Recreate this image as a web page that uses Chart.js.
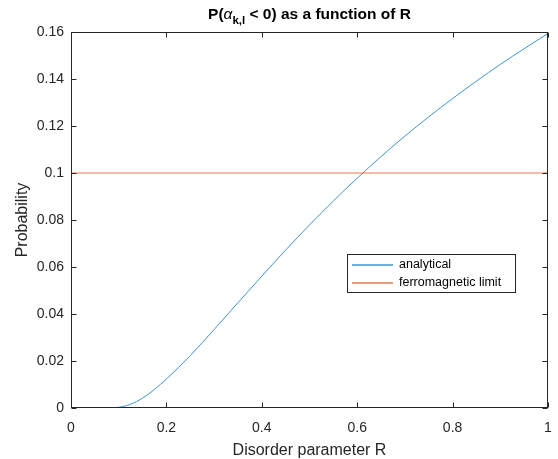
<!DOCTYPE html>
<html><head><meta charset="utf-8">
<script src="https://cdn.jsdelivr.net/npm/chart.js@4"></script>
<style>html,body{margin:0;padding:0;background:#fff}#wrap{width:558px;height:459px}</style>
</head><body><div id="wrap"><canvas id="c" width="558" height="459"></canvas></div>
<script>
const R = [0, 0.05, 0.085, 0.1, 0.125, 0.15, 0.175, 0.2, 0.25, 0.3, 0.35, 0.4, 0.45, 0.5, 0.55, 0.6, 0.65, 0.7, 0.75, 0.8, 0.85, 0.9, 0.95, 1.0];
const analytical = [0, 0, 0, 0.0003, 0.0016, 0.0042, 0.0079, 0.0123, 0.0223, 0.0334, 0.0448, 0.0561, 0.0672, 0.0779, 0.0881, 0.0978, 0.1070, 0.1157, 0.1239, 0.1317, 0.1391, 0.1462, 0.1529, 0.1594];
const limitR = [0, 1];
const limitP = [0.1, 0.1];
const xTicks = [0, 0.2, 0.4, 0.6, 0.8, 1];
const yTicks = [0, 0.02, 0.04, 0.06, 0.08, 0.1, 0.12, 0.14, 0.16];
const seriesNames = ['analytical', 'ferromagnetic limit'];
const seriesColors = ['#3D94D2', '#E27A4B'];
const FONT = 'Liberation Sans, Arial, sans-serif';
const AX = '#262626';

const frame = {
  id: 'frame',
  afterDatasetsDraw(chart) {
    const {ctx, chartArea: a, scales: {x, y}} = chart;
    ctx.save();
    ctx.globalAlpha = 1;
    ctx.strokeStyle = AX; ctx.lineWidth = 1;
    const L = Math.round(a.left) + 0.5, Rr = Math.round(a.right) - 0.5, T = Math.round(a.top) + 0.5, B = Math.round(a.bottom) - 0.5;
    ctx.strokeRect(L, T, Rr - L, B - T);
    ctx.beginPath();
    xTicks.forEach(v => { const px = Math.round(x.getPixelForValue(v)) + 0.5; ctx.moveTo(px, B); ctx.lineTo(px, B - 5); ctx.moveTo(px, T); ctx.lineTo(px, T + 5); });
    yTicks.forEach(v => { const py = Math.round(y.getPixelForValue(v)) + 0.5; ctx.moveTo(L, py); ctx.lineTo(L + 5, py); ctx.moveTo(Rr, py); ctx.lineTo(Rr - 5, py); });
    ctx.stroke();
    // legend
    const lx = 347, ly = 254, lw = 168, lh = 38;
    ctx.fillStyle = '#fff'; ctx.fillRect(lx, ly, lw, lh);
    ctx.strokeStyle = AX; ctx.strokeRect(lx + 0.5, ly + 0.5, lw, lh);
    ctx.font = '12.5px ' + FONT; ctx.textBaseline = 'middle'; ctx.textAlign = 'left';
    const rows = [265, 283];
    for (let i = 0; i < 2; i++) {
      const yy = rows[i];
      ctx.beginPath();
      ctx.strokeStyle = seriesColors[i];
      ctx.lineWidth = 1.4;
      ctx.moveTo(352, yy); ctx.lineTo(393, yy);
      ctx.stroke();
      ctx.fillStyle = '#000'; ctx.fillText(seriesNames[i], 399, yy);
    }
    // axis titles
    ctx.fillStyle = AX; ctx.font = '16px ' + FONT; ctx.textAlign = 'center'; ctx.textBaseline = 'middle';
    ctx.fillText('Disorder parameter R', (a.left + a.right) / 2, 451);
    ctx.save(); ctx.translate(23, (a.top + a.bottom) / 2); ctx.rotate(-Math.PI / 2); ctx.fillText('Probability', 0, 0); ctx.restore();
    // title
    ctx.fillStyle = '#000'; ctx.textBaseline = 'alphabetic'; ctx.textAlign = 'left';
    const parts = [
      {t: 'P(', f: 'bold 15.5px ' + FONT, dy: 0},
      {t: 'α', f: 'italic 15.5px ' + FONT, dy: 0},
      {t: 'k,l', f: 'bold 11.5px ' + FONT, dy: 5},
      {t: ' < 0) as a function of R', f: 'bold 15.5px ' + FONT, dy: 0}
    ];
    let w = 0; parts.forEach(p => { ctx.font = p.f; p.w = ctx.measureText(p.t).width; w += p.w; });
    let cx = (a.left + a.right) / 2 - w / 2;
    parts.forEach(p => { ctx.font = p.f; ctx.fillText(p.t, cx, 19 + p.dy); cx += p.w; });
    ctx.restore();
  }
};

new Chart(document.getElementById('c'), {
  type: 'scatter',
  data: {
    datasets: [
      {label: seriesNames[0], data: R.map((r, i) => ({x: r, y: analytical[i]})), showLine: true, borderColor: seriesColors[0], borderWidth: 1, pointRadius: 0, cubicInterpolationMode: 'monotone'},
      {label: seriesNames[1], data: limitR.map((r, i) => ({x: r, y: limitP[i]})), showLine: true, borderColor: seriesColors[1], borderWidth: 1, pointRadius: 0}
    ]
  },
  options: {
    responsive: false, animation: false, devicePixelRatio: 1,
    layout: {padding: {left: 0, top: 32, right: 10, bottom: 0}},
    plugins: {legend: {display: false}, title: {display: false}, tooltip: {enabled: false}},
    scales: {
      x: {type: 'linear', min: 0, max: 1,
        afterBuildTicks: s => { s.ticks = xTicks.map(v => ({value: v})); },
        afterFit: s => { s.height = 51; s.paddingLeft = 0; s.paddingRight = 0; },
        grid: {display: false, drawTicks: false}, border: {display: false},
        ticks: {padding: 12, color: AX, font: {family: FONT, size: 14}, callback: v => String(v)}},
      y: {min: 0, max: 0.16,
        afterBuildTicks: s => { s.ticks = yTicks.map(v => ({value: v})); },
        afterFit: s => { s.width = 71; s.paddingTop = 0; s.paddingBottom = 0; },
        grid: {display: false, drawTicks: false}, border: {display: false},
        ticks: {padding: 7, color: AX, font: {family: FONT, size: 14}, callback: v => String(+v.toFixed(2))}}
    }
  },
  plugins: [frame]
});
</script></body></html>
